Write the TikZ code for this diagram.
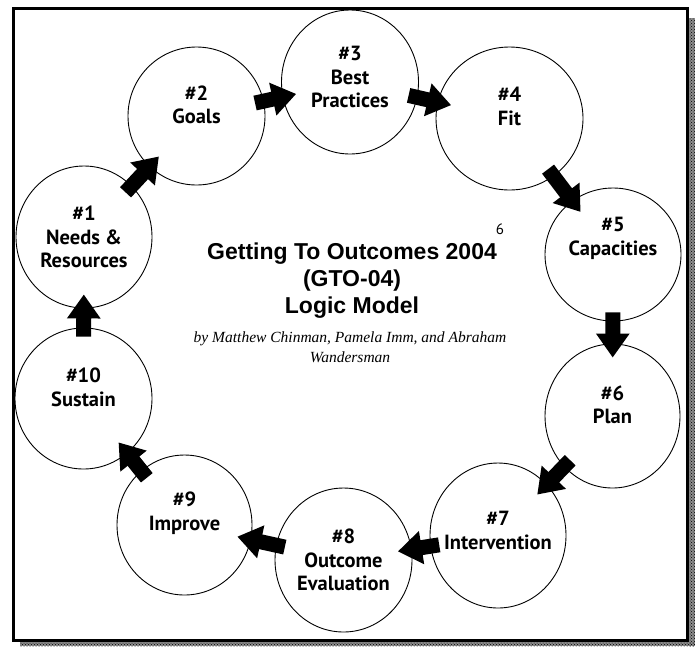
\documentclass[tikz,border=0pt]{standalone}
\usepackage{fontspec}
\setmainfont{Liberation Serif}
\newfontfamily\stepfont{PT Sans}
\newfontfamily\titlefont{Liberation Sans}
\usetikzlibrary{shapes.geometric,arrows.meta,patterns}

\begin{document}
\begin{tikzpicture}[x=1pt,y=-1pt,
    stepcircle/.style={ellipse,draw,line width=0.9pt,inner sep=0pt,minimum width=137pt,minimum height=143pt},
    steplabel/.style={align=center,font=\stepfont\bfseries\fontsize{20.5}{23.5}\selectfont},
    steparrow/.style={line width=15pt,-{Triangle[width=32pt,length=24pt]},shorten <=-9pt,shorten >=-14pt}]
            \useasboundingbox (0,0) rectangle (695,646);

            % scanned page edges
            \fill[black!45] (689,18) rectangle (695,646);
            \fill[black!45] (20,642) rectangle (695,646);
            \fill[pattern=crosshatch dots,pattern color=black] (689,18) rectangle (695,646);
            \fill[pattern=crosshatch dots,pattern color=black] (20,642) rectangle (695,646);
            \draw[line width=3pt] (13,8) rectangle (687,640);

            \node (s1) at (84,237) [stepcircle,minimum width=136pt,minimum height=142pt,label={[steplabel]center:\#1\\Needs \&\\Resources}] {};
            \node (s2) at (196.5,116) [stepcircle,minimum height=138pt,label={[steplabel,yshift=11pt]center:\#2\\Goals}] {};
            \node (s3) at (350,82) [stepcircle,minimum height=144pt,label={[steplabel,yshift=5pt]center:\#3\\Best\\Practices}] {};
            \node (s4) at (509.5,118.5) [stepcircle,minimum width=147pt,label={[steplabel,yshift=12pt]center:\#4\\Fit}] {};
            \node (s5) at (613,254.5) [stepcircle,minimum width=136pt,minimum height=133pt,label={[steplabel,yshift=16pt]center:\#5\\Capacities}] {};
            \node (s6) at (612.5,416) [stepcircle,minimum width=135pt,minimum height=144pt,label={[steplabel,yshift=11pt]center:\#6\\Plan}] {};
            \node (s7) at (498,535.5) [stepcircle,minimum width=136pt,minimum height=145pt,label={[steplabel,yshift=5pt]center:\#7\\Intervention}] {};
            \node (s8) at (343.5,560) [stepcircle,minimum height=144pt,label={[steplabel]center:\#8\\Outcome\\Evaluation}] {};
            \node (s9) at (184.5,525) [stepcircle,minimum width=135pt,minimum height=140pt,label={[steplabel,yshift=12pt]center:\#9\\Improve}] {};
            \node (s10) at (83.5,398.5) [stepcircle,minimum height=141pt,label={[steplabel,yshift=11pt]center:\#10\\Sustain}] {};

            \draw[steparrow] (s1) -- (s2);
            \draw[steparrow] (s2) -- (s3);
            \draw[steparrow] (s3) -- (s4);
            \draw[steparrow] (s4) -- (s5);
            \draw[steparrow] (s5) -- (s6);
            \draw[steparrow] (s6) -- (s7);
            \draw[steparrow] (s7) -- (s8);
            \draw[steparrow] (s8) -- (s9);
            \draw[steparrow] (s9) -- (s10);
            \draw[steparrow] (s10) -- (s1);

            \node (title) at (352,281) [align=center,font=\titlefont\bfseries\fontsize{23}{27}\selectfont] {Getting To Outcomes 2004\\(GTO-04)\\Logic Model};
            \node (fnmark) at (500,229) [font=\stepfont\fontsize{15}{17}\selectfont] {6};
            \node (authors) at (350,347) [align=center,font=\itshape\fontsize{15.5}{20}\selectfont] {by Matthew Chinman, Pamela Imm, and Abraham\\Wandersman};

        \end{tikzpicture}
\end{document}
